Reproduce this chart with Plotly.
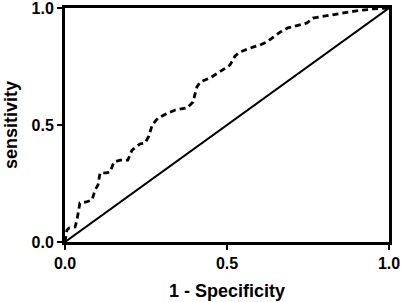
import plotly.graph_objects as go

# ROC curve points
fpr = [0, 0.003, 0.006, 0.012, 0.031, 0.037, 0.046, 0.065, 0.083, 0.093, 0.102, 0.108,
       0.127, 0.139, 0.151, 0.17, 0.194, 0.207, 0.231, 0.247, 0.259, 0.269, 0.287, 0.318,
       0.34, 0.377, 0.395, 0.407, 0.417, 0.448, 0.494, 0.509, 0.525, 0.54, 0.58, 0.602,
       0.623, 0.639, 0.664, 0.688, 0.725, 0.747, 0.765, 0.802, 0.849, 0.895, 0.951, 1.0]
tpr = [0, 0.026, 0.051, 0.06, 0.064, 0.094, 0.167, 0.171, 0.179, 0.222, 0.244, 0.295,
       0.295, 0.299, 0.342, 0.35, 0.35, 0.393, 0.419, 0.423, 0.453, 0.5, 0.53, 0.551,
       0.564, 0.573, 0.598, 0.662, 0.684, 0.701, 0.744, 0.756, 0.795, 0.812, 0.833, 0.842,
       0.855, 0.872, 0.897, 0.915, 0.927, 0.936, 0.957, 0.966, 0.979, 0.987, 0.996, 1.0]
ref_x = [0, 1]
ref_y = [0, 1]
tick_vals = [0, 0.5, 1.0]
tick_text = ["0.0", "0.5", "1.0"]

fig = go.Figure()
fig.add_trace(go.Scatter(x=ref_x, y=ref_y, mode="lines",
                         line=dict(color="black", width=2), cliponaxis=False))
fig.add_trace(go.Scatter(x=fpr, y=tpr, mode="lines",
                         line=dict(color="black", width=2.8, dash="6px,4px"),
                         cliponaxis=False))

font = dict(family="Liberation Sans, Arial, sans-serif", color="black")
axis_common = dict(range=[0, 1], tickvals=tick_vals,
                   ticktext=["<b>%s</b>" % t for t in tick_text],
                   showgrid=False, zeroline=False, showline=True, linecolor="black",
                   linewidth=3, mirror=True, ticks="outside", ticklen=5, tickwidth=2,
                   tickcolor="black", automargin=False, ticklabeloverflow="allow",
                   tickfont=dict(size=16, **font))
fig.update_xaxes(title=dict(text="<b>1 - Specificity</b>", font=dict(size=18, **font),
                            standoff=14), **axis_common)
fig.update_yaxes(title=dict(text="<b>sensitivity</b>", font=dict(size=18, **font),
                            standoff=10), **axis_common)
fig.update_layout(width=402, height=302, margin=dict(l=65, r=13, t=8, b=60, autoexpand=False),
                  plot_bgcolor="white", paper_bgcolor="white", showlegend=False,
                  font=dict(family="Liberation Sans, Arial, sans-serif", size=16, color="black"))
fig.write_html("out.html", config={"displayModeBar": False},
               post_script="document.body.style.margin='0';document.body.style.overflow='hidden';")
